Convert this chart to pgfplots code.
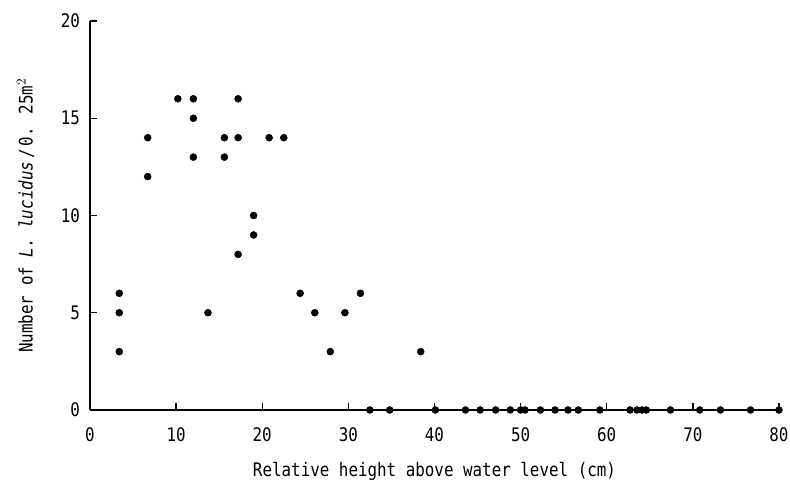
\documentclass[border=0pt]{standalone}
\usepackage{fontspec}
\setmainfont{DejaVu Sans Mono}[FakeStretch=0.85]
\usepackage{pgfplots}
\pgfplotsset{compat=1.18}
\begin{document}
\begin{tikzpicture}
\begin{axis}[
    scale only axis,
    width=516.75pt,
    height=291.75pt,
    axis lines=left,
    axis line style={line width=1.2pt, -},
    xmin=0, xmax=80,
    ymin=0, ymax=20,
    xtick={0,10,...,80},
    ytick={0,5,...,20},
    tick style={black, line width=1pt},
    major tick length=5pt,
    tick align=inside,
    clip=false,
    /pgf/number format/assume math mode=true,
    tick label style={font=\fontsize{14}{16}\selectfont},
    xticklabel style={yshift=-10pt},
    yticklabel style={xshift=-4pt},
    xlabel={Relative height above water level (cm)},
    ylabel={Number of \textit{L. lucidus}\,/\,0. 25m$^{2}$},
    label style={font=\fontsize{14}{16}\selectfont},
    xlabel style={yshift=-8pt},
    ylabel style={yshift=13pt},
]
\addplot[only marks, mark=*, mark size=2.6pt, black] coordinates {
    (3.4,6) (3.4,5) (3.4,3)
    (6.7,14) (6.7,12)
    (10.2,16)
    (12,16) (12,15) (12,13)
    (13.7,5)
    (15.6,14) (15.6,13)
    (17.2,16) (17.2,14) (17.2,8)
    (19,10) (19,9)
    (20.8,14) (22.5,14)
    (24.4,6) (26.1,5) (27.9,3) (29.6,5) (31.4,6)
    (38.4,3)
};
\addplot[only marks, mark=*, mark size=2.6pt, black] coordinates {
    (32.5,0) (34.8,0) (40.1,0) (43.6,0) (45.3,0) (47.1,0) (48.8,0)
    (50.0,0) (50.5,0) (52.3,0) (54.0,0) (55.5,0) (56.7,0) (59.2,0)
    (62.7,0) (63.5,0) (64.1,0) (64.6,0) (67.4,0) (70.8,0) (73.2,0)
    (76.7,0) (80,0)
};
\coordinate (bl) at (axis cs:-10.45,-3.856);
\coordinate (tr) at (axis cs:81.28,21.08);
\end{axis}
\pgfresetboundingbox
\path (bl) rectangle (tr);
\end{tikzpicture}
\end{document}
